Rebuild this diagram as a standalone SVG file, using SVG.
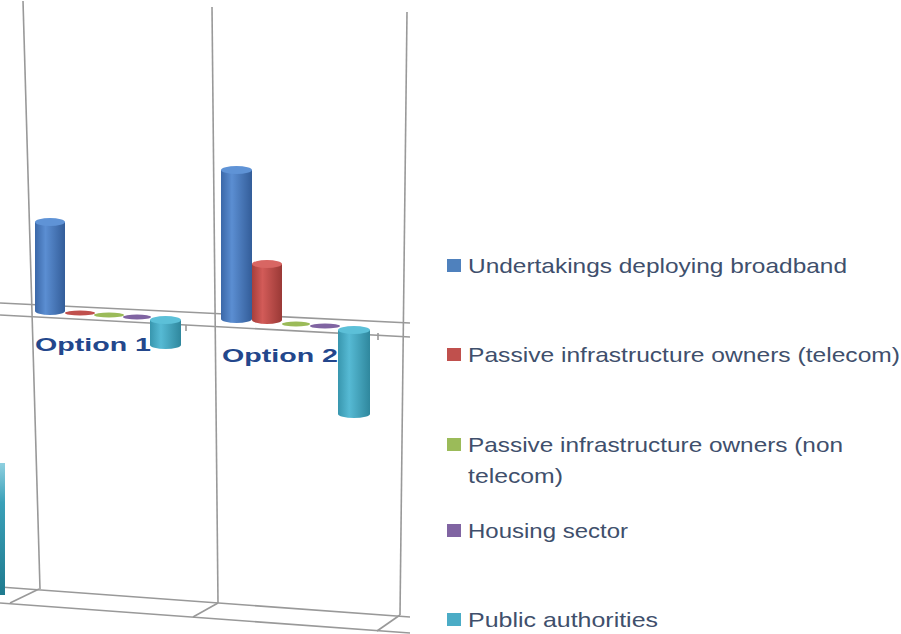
<svg xmlns="http://www.w3.org/2000/svg" width="901" height="634" viewBox="0 0 901 634">
<style>
.grid{stroke:#999999;stroke-width:1.6;fill:none}
.lg{font-family:"Liberation Sans",Arial,sans-serif;font-size:21px;fill:#404f6c}
.cat{font-family:"Liberation Sans",Arial,sans-serif;font-size:18px;font-weight:bold;fill:#23478c}
</style>
<defs>
<linearGradient id="gB" x1="0" x2="1" y1="0" y2="0"><stop offset="0" stop-color="#3b68a8"/><stop offset="0.35" stop-color="#5b8ed2"/><stop offset="1" stop-color="#335d99"/></linearGradient>
<linearGradient id="gR" x1="0" x2="1" y1="0" y2="0"><stop offset="0" stop-color="#a63f3c"/><stop offset="0.35" stop-color="#d25b58"/><stop offset="1" stop-color="#9a3936"/></linearGradient>
<linearGradient id="gT" x1="0" x2="1" y1="0" y2="0"><stop offset="0" stop-color="#3896ae"/><stop offset="0.35" stop-color="#56bad4"/><stop offset="1" stop-color="#2f879d"/></linearGradient>
<linearGradient id="gS" x1="0" x2="0" y1="0" y2="1"><stop offset="0" stop-color="#8fd0e0"/><stop offset="0.3" stop-color="#3aa0b8"/><stop offset="1" stop-color="#1f7a8e"/></linearGradient>
</defs>
<rect width="901" height="634" fill="#ffffff"/>

<g id="axes">
<line class="grid" x1="23" y1="1" x2="40" y2="589"/>
<line class="grid" x1="212" y1="7" x2="218" y2="603"/>
<line class="grid" x1="407" y1="12" x2="400" y2="615"/>
<line class="grid" x1="0" y1="303" x2="410" y2="323"/>
<line class="grid" x1="0" y1="315" x2="410" y2="337"/>
<line class="grid" x1="186" y1="325" x2="186" y2="331"/>
<line class="grid" x1="378" y1="333" x2="378" y2="340"/>
<line class="grid" x1="0" y1="587" x2="410" y2="617"/>
<line class="grid" x1="0" y1="603" x2="410" y2="633"/>
<line class="grid" x1="39" y1="589" x2="10" y2="603"/>
<line class="grid" x1="218" y1="603" x2="193" y2="617"/>
<line class="grid" x1="400" y1="615" x2="377" y2="631"/>
</g>

<rect x="0" y="463" width="5" height="132" fill="url(#gS)"/>

<g id="option1">
<path d="M35,222 L35,311 A15,4 0 0 0 65,311 L65,222 Z" fill="url(#gB)"/>
<ellipse cx="50" cy="222" rx="15" ry="4" fill="#5f93d6"/>
<ellipse cx="80" cy="313" rx="15" ry="2.5" fill="#c0504d"/>
<ellipse cx="109" cy="315" rx="15" ry="2.5" fill="#9bbb59"/>
<ellipse cx="137" cy="317" rx="14" ry="2.5" fill="#8064a2"/>
<path d="M150,320 L150,345 A15.5,4 0 0 0 181,345 L181,320 Z" fill="url(#gT)"/>
<ellipse cx="165.5" cy="320" rx="15.5" ry="4" fill="#5cc0d8"/>
<text class="cat" x="35" y="351" textLength="116" lengthAdjust="spacingAndGlyphs">Option 1</text>
</g>

<g id="option2">
<path d="M221,170 L221,319 A15.5,4 0 0 0 252,319 L252,170 Z" fill="url(#gB)"/>
<ellipse cx="236.5" cy="170" rx="15.5" ry="4" fill="#5f93d6"/>
<path d="M252,264 L252,320 A15,4 0 0 0 282,320 L282,264 Z" fill="url(#gR)"/>
<ellipse cx="267" cy="264" rx="15" ry="4" fill="#d86663"/>
<ellipse cx="296" cy="324" rx="14" ry="2.5" fill="#9bbb59"/>
<ellipse cx="325" cy="326" rx="15" ry="2.5" fill="#8064a2"/>
<path d="M338,330 L338,414 A16,4 0 0 0 370,414 L370,330 Z" fill="url(#gT)"/>
<ellipse cx="354" cy="330" rx="16" ry="4" fill="#5cc0d8"/>
<text class="cat" x="222" y="362" textLength="116" lengthAdjust="spacingAndGlyphs">Option 2</text>
</g>

<g id="legend">
<g id="leg1"><rect x="447" y="259" width="14" height="13" fill="#4f81bd"/><text class="lg" x="468" y="273" textLength="379" lengthAdjust="spacingAndGlyphs">Undertakings deploying broadband</text></g>
<g id="leg2"><rect x="447" y="348" width="14" height="13" fill="#c0504d"/><text class="lg" x="468" y="362" textLength="432" lengthAdjust="spacingAndGlyphs">Passive infrastructure owners (telecom)</text></g>
<g id="leg3"><rect x="447" y="438" width="14" height="13" fill="#9bbb59"/><text class="lg" x="468" y="452" textLength="375" lengthAdjust="spacingAndGlyphs">Passive infrastructure owners (non</text><text class="lg" x="468" y="483" textLength="95" lengthAdjust="spacingAndGlyphs">telecom)</text></g>
<g id="leg4"><rect x="447" y="524" width="14" height="13" fill="#8064a2"/><text class="lg" x="468" y="538" textLength="160" lengthAdjust="spacingAndGlyphs">Housing sector</text></g>
<g id="leg5"><rect x="447" y="613" width="14" height="13" fill="#4bacc6"/><text class="lg" x="468" y="627" textLength="190" lengthAdjust="spacingAndGlyphs">Public authorities</text></g>
</g>
</svg>
